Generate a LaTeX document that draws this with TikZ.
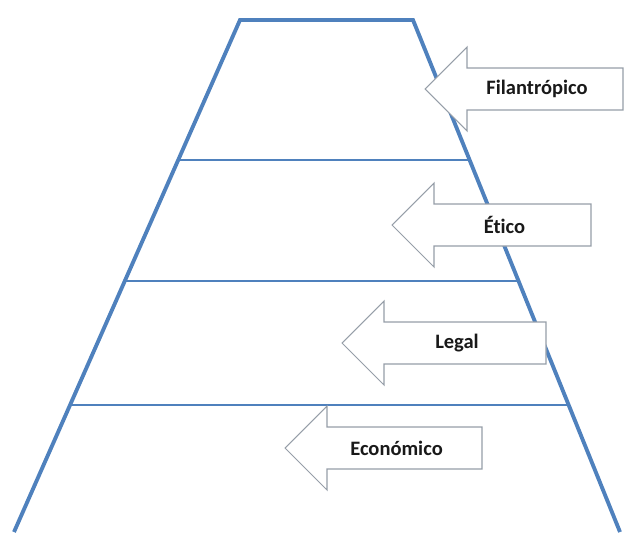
\documentclass[tikz,border=0pt]{standalone}
\usepackage{fontspec}
\setmainfont[Ligatures=NoCommon]{Carlito}
\usetikzlibrary{calc}
\definecolor{piramide}{RGB}{79,129,189}
\definecolor{gris}{RGB}{150,158,168}
\definecolor{texto}{RGB}{25,25,25}

\begin{document}
\begin{tikzpicture}[x=0.03cm,y=-0.03cm,
	pyramid/.style={draw=piramide,line width=3.3pt,line join=miter},
	level/.style={draw=piramide,line width=1pt},
	flecha/.style={draw=gris,fill=white,line width=0.9pt,line join=miter},
	etiqueta/.style={font=\fontsize{17.5}{21}\selectfont\bfseries,text=texto}]
	\useasboundingbox (0,0) rectangle (629,532);
	% corners of the pyramid
	\coordinate (bl) at (14,532);
	\coordinate (tl) at (240,20);
	\coordinate (tr) at (413,20);
	\coordinate (br) at (620,532);
	\draw[pyramid] (bl) -- (tl) -- (tr) -- (br);
	% level lines
	\coordinate (lv1l) at ($(tl)!0.2734!(bl)$);
	\coordinate (lv1r) at ($(tr)!0.2734!(br)$);
	\coordinate (lv2l) at ($(tl)!0.5098!(bl)$);
	\coordinate (lv2r) at ($(tr)!0.5098!(br)$);
	\coordinate (lv3l) at ($(tl)!0.7520!(bl)$);
	\coordinate (lv3r) at ($(tr)!0.7520!(br)$);
	\draw[level] (lv1l) -- (lv1r);
	\draw[level] (lv2l) -- (lv2r);
	\draw[level] (lv3l) -- (lv3r);
	% arrows
	\foreach \n/\x/\y/\r/\t in {fil/425/89/623/Filantrópico,eti/392/225/591/Ético,leg/342/343/546/Legal,eco/285/448/482/Económico}{
		\draw[flecha] (\x,\y) -- ++(42,-42) -- ++(0,21) -- (\r,\y-21) -- (\r,\y+21) -- (\x+42,\y+21) -- ++(0,21) -- cycle;
		\node[etiqueta] (\n) at ({(\x+42+\r)/2-8},\y) {\t};
	}
\end{tikzpicture}
\end{document}
